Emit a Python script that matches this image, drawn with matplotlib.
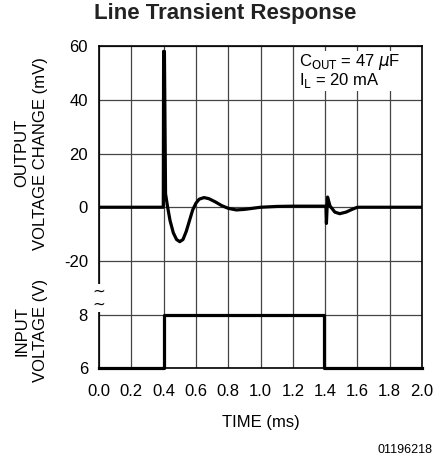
import matplotlib.pyplot as plt

# Output voltage change (mV) vs time (ms)
t_out = [0.0, 0.398, 0.400, 0.405, 0.412, 0.425, 0.44, 0.46, 0.48, 0.50,
         0.52, 0.54, 0.56, 0.58, 0.60, 0.62, 0.65, 0.68, 0.72, 0.76,
         0.80, 0.85, 0.90, 0.95, 1.0, 1.1, 1.2, 1.3, 1.405, 1.408,
         1.415, 1.43, 1.46, 1.49, 1.53, 1.57, 1.60, 2.0]
v_out = [0, 0, 58, 58, 5, 0, -5, -9.5, -12, -12.8,
         -12, -9, -5, -1, 1.5, 3, 3.6, 3.2, 2, 0.6,
         -0.4, -1, -0.8, -0.4, 0, 0.3, 0.4, 0.4, 0.4, -6,
         3.8, 0.5, -1.8, -2.4, -1.8, -0.7, 0, 0]

# Input voltage (V) step
t_in = [0.0, 0.4, 0.4, 1.39, 1.39, 2.0]
v_in = [6, 6, 8, 8, 6, 6]

out_ticks = [60, 40, 20, 0, -20]
in_ticks = [8, 6]


def out_units(mv):
    return [3 + v / 20 for v in mv]


def in_units(v):
    return [(x - 6) / 2 for x in v]


plot_font = ['Liberation Sans', 'DejaVu Sans']

fig = plt.figure(figsize=(4.41, 4.69), dpi=100)
ax = fig.add_axes([0.2245, 0.2143, 0.7325, 0.6876])

ax.plot(t_out, out_units(v_out), color='black', lw=2.3, solid_joinstyle='round')
ax.plot(t_in, in_units(v_in), color='black', lw=2.3, clip_on=False)

ax.set_xlim(0, 2.0)
ax.set_ylim(0, 6)
ax.set_xticks([i * 0.2 for i in range(11)])
ax.set_xticklabels(['%.1f' % (i * 0.2) for i in range(11)], family=plot_font, fontsize=12)
ax.set_yticks(out_units(out_ticks) + in_units(in_ticks))
ax.set_yticklabels([str(v) for v in out_ticks] + [str(v) for v in in_ticks],
                   family=plot_font, fontsize=12)
ax.tick_params(axis='x', length=0, pad=11)
ax.tick_params(axis='y', length=0, pad=8)
ax.grid(True, color='#444444', lw=0.9)
for s in ax.spines.values():
    s.set_linewidth(1.2)

ax.set_xlabel('TIME (ms)', family=plot_font, fontsize=12, labelpad=12)

fig.text(0.07, 0.673, 'OUTPUT\nVOLTAGE CHANGE (mV)', rotation=90, ha='center',
         va='center', family=plot_font, fontsize=12, linespacing=1.3)
fig.text(0.07, 0.295, 'INPUT\nVOLTAGE (V)', rotation=90, ha='center',
         va='center', family=plot_font, fontsize=12, linespacing=1.3)

# axis break marks
ax.text(-0.002, 1.315, '~\n~', transform=ax.get_yaxis_transform(), ha='center',
        va='center', fontsize=11, color='black', clip_on=False, linespacing=0.8,
        bbox=dict(boxstyle='square,pad=0', fc='white', ec='none'))

ax.text(1.24, 5.88, r'C$_{\mathrm{OUT}}$ = 47 $\mu$F' + '\n' + r'I$_{\mathrm{L}}$ = 20 mA',
        ha='left', va='top', family=plot_font, fontsize=12, linespacing=0.9,
        bbox=dict(boxstyle='square,pad=0.05', fc='white', ec='none'))

fig.text(0.51, 0.972, 'Line Transient Response', ha='center', va='center',
         family=['Liberation Sans', 'DejaVu Sans'], fontsize=16, fontweight='bold',
         color='#222222')
fig.text(0.98, 0.04, '01196218', ha='right', va='center',
         family=['Liberation Sans', 'DejaVu Sans'], fontsize=9)

fig.savefig('out.png', dpi=100)
